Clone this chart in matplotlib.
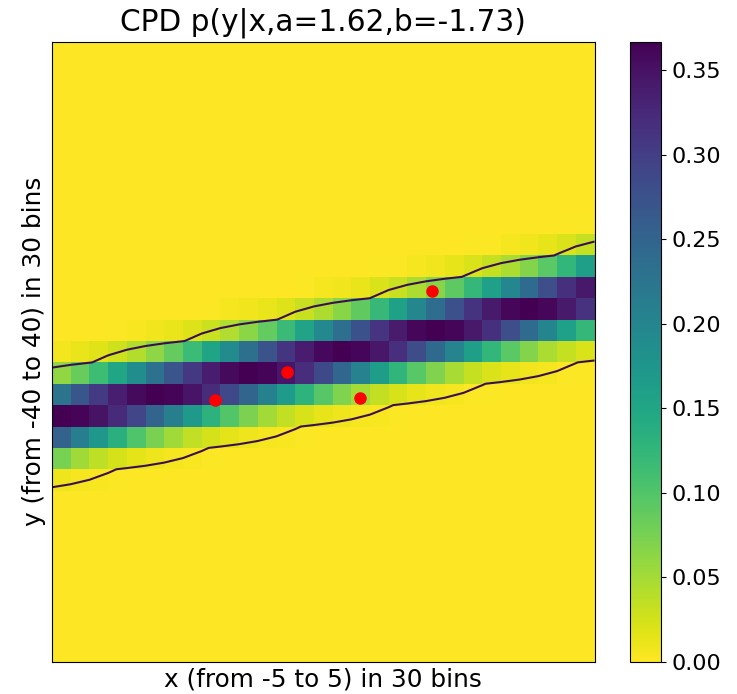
import numpy as np
import matplotlib.pyplot as plt

# CPD parameters (from the title)
a = 1.62
b = -1.73
sigma = 3.0
n_bins = 30
x_range = (-5, 5)
y_range = (-40, 40)

# red sample points
pts_x = [-2.0, -0.67, 0.67, 2.0]
pts_y = [-6.2, -2.6, -6.0, 7.8]

contour_level = 0.02

xs = np.linspace(x_range[0], x_range[1], n_bins)
ys = np.linspace(y_range[0], y_range[1], n_bins)
X, Y = np.meshgrid(xs, ys)
cpd = np.exp(-(Y - (a * X + b)) ** 2 / (2 * sigma ** 2))
cpd = cpd / cpd.sum(axis=0, keepdims=True)

fig = plt.figure(figsize=(7.37, 6.94), dpi=100)
ax = fig.add_axes([0.0706, 0.0465, 0.7361, 0.8935])
cax = fig.add_axes([0.8548, 0.0465, 0.0427, 0.8935])

# flat shading: each cell takes the value of its lower-left grid point
mesh = ax.pcolormesh(X, Y, cpd[:-1, :-1], cmap='viridis_r', shading='flat')
ax.contour(X, Y, cpd, levels=[contour_level], colors='#3b0f4f', linewidths=1.5)
ax.plot(pts_x, pts_y, 'o', color='red', markersize=8)

ax.set_xlim(x_range)
ax.set_ylim(y_range)
ax.set_xticks([])
ax.set_yticks([])
ax.set_title(f"CPD p(y|x,a={a},b={b})", fontsize=21.3, pad=8)
ax.set_xlabel(f"x (from {x_range[0]} to {x_range[1]}) in {n_bins} bins", fontsize=17.8)
ax.set_ylabel(f"y (from {y_range[0]} to {y_range[1]}) in {n_bins} bins", fontsize=17.8)

cb = fig.colorbar(mesh, cax=cax, ticks=np.arange(0, 0.36, 0.05), format='%.2f')
cb.ax.tick_params(labelsize=16)

fig.savefig('out.png', dpi=100)
